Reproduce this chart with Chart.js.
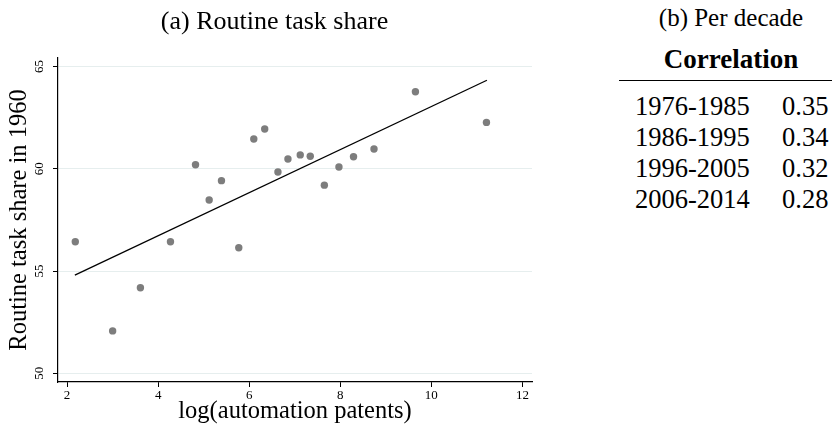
<!DOCTYPE html>
<html>
<head>
<meta charset="utf-8">
<script src="https://cdn.jsdelivr.net/npm/chart.js@4"></script>
<style>
  body { margin: 0; background: #fff; width: 832px; height: 430px; overflow: hidden; position: relative; font-family: "Liberation Serif", "DejaVu Serif", serif; color: #000; }
  #chartBox { position: absolute; left: 0; top: 0; width: 560px; height: 430px; }
  .aTitle { position: absolute; top: 8px; left: 0; width: 549px; text-align: center; font-size: 26px; line-height: 26px; }
  #panelB { position: absolute; left: 600px; top: 0; width: 232px; height: 430px; }
  .pTitle { position: absolute; top: 5px; left: 0; width: 262px; text-align: center; font-size: 25px; line-height: 25px; }
  .colHead { position: absolute; top: 46px; left: 20px; width: 222px; text-align: center; font-size: 27px; line-height: 27px; font-weight: bold; }
  .rule { position: absolute; top: 80px; left: 19px; width: 213px; border-top: 1.5px solid #000; }
  .row { position: absolute; left: 35px; font-size: 26.5px; line-height: 26px; white-space: nowrap; }
  .row span { position: absolute; left: 147px; }
</style>
</head>
<body>
<div id="chartBox"><canvas id="scatterChart"></canvas></div>
<div class="aTitle">(a) Routine task share</div>
<div id="panelB">
  <div class="pTitle">(b) Per decade</div>
  <div class="colHead">Correlation</div>
  <div class="rule"></div>
  <div id="rows"></div>
</div>
<script>
// 散点数据（行业层面）
const patentsLog = [2.18, 3.00, 3.61, 4.27, 4.82, 5.12, 5.39, 5.77, 6.10, 6.34,
                    6.63, 6.85, 7.12, 7.34, 7.65, 7.97, 8.29, 8.74, 9.65, 11.21];
const routineShare = [56.43, 52.07, 54.18, 56.43, 60.20, 58.47, 59.42, 56.14, 61.46, 61.95,
                      59.84, 60.48, 60.68, 60.61, 59.20, 60.09, 60.59, 60.97, 63.77, 62.27];
// 拟合线端点
const fitX = [2.17, 11.22];
const fitY = [54.80, 64.33];
// 刻度
const xTickVals = [2, 4, 6, 8, 10, 12];
const yTickVals = [50, 55, 60, 65];
// 右侧表格
const decades = ['1976-1985', '1986-1995', '1996-2005', '2006-2014'];
const correlations = ['0.35', '0.34', '0.32', '0.28'];

document.addEventListener('DOMContentLoaded', function() {
    // 表格行
    const rowsBox = document.getElementById('rows');
    decades.forEach((d, i) => {
        const row = document.createElement('div');
        row.className = 'row';
        row.style.top = (93 + i * 31) + 'px';
        row.innerHTML = d + '<span>' + correlations[i] + '</span>';
        rowsBox.appendChild(row);
    });

    const serif = '"Liberation Serif", "DejaVu Serif", serif';
    const ctx = document.getElementById('scatterChart').getContext('2d');
    new Chart(ctx, {
        type: 'scatter',
        data: {
            datasets: [
                {
                    label: 'Industries',
                    data: patentsLog.map((x, i) => ({ x: x, y: routineShare[i] })),
                    backgroundColor: '#7d7d7d',
                    borderWidth: 0,
                    pointRadius: 3.7
                },
                {
                    label: 'Fit',
                    type: 'line',
                    data: fitX.map((x, i) => ({ x: x, y: fitY[i] })),
                    borderColor: '#000',
                    borderWidth: 1.3,
                    pointRadius: 0,
                    fill: false
                }
            ]
        },
        options: {
            responsive: true,
            maintainAspectRatio: false,
            animation: false,
            layout: { padding: { left: 0, right: 28, top: 58, bottom: 0 } },
            plugins: {
                legend: { display: false },
                tooltip: { enabled: false }
            },
            scales: {
                x: {
                    type: 'linear',
                    min: 1.80,
                    max: 12.21,
                    afterBuildTicks: scale => { scale.ticks = xTickVals.map(v => ({ value: v })); },
                    afterFit: scale => { scale.height = 48; },
                    border: { color: '#000', width: 1.2 },
                    grid: { drawOnChartArea: false, drawTicks: true, tickLength: 5, tickColor: '#000' },
                    ticks: { color: '#000', font: { family: serif, size: 13, lineHeight: 1 }, padding: 2, maxRotation: 0 },
                    title: {
                        display: true,
                        text: 'log(automation patents)',
                        color: '#000',
                        font: { family: serif, size: 24.5, lineHeight: 1 },
                        padding: { top: 0, bottom: 6 }
                    }
                },
                y: {
                    type: 'linear',
                    min: 49.57,
                    max: 65.42,
                    afterBuildTicks: scale => { scale.ticks = yTickVals.map(v => ({ value: v })); },
                    afterFit: scale => { scale.width = 58; },
                    border: { color: '#000', width: 1.2 },
                    grid: { color: '#e6eeee', lineWidth: 1, drawTicks: true, tickLength: 5, tickColor: '#000' },
                    // 竖排刻度标签，居中对齐刻度线
                    ticks: { color: '#000', font: { family: serif, size: 13, lineHeight: 1 }, padding: 13, minRotation: 90, maxRotation: 90, labelOffset: -6.5 },
                    title: {
                        display: true,
                        text: 'Routine task share in 1960',
                        color: '#000',
                        font: { family: serif, size: 24.5, lineHeight: 1 },
                        padding: { top: 7, bottom: 0 }
                    }
                }
            }
        }
    });
});
</script>
</body>
</html>
